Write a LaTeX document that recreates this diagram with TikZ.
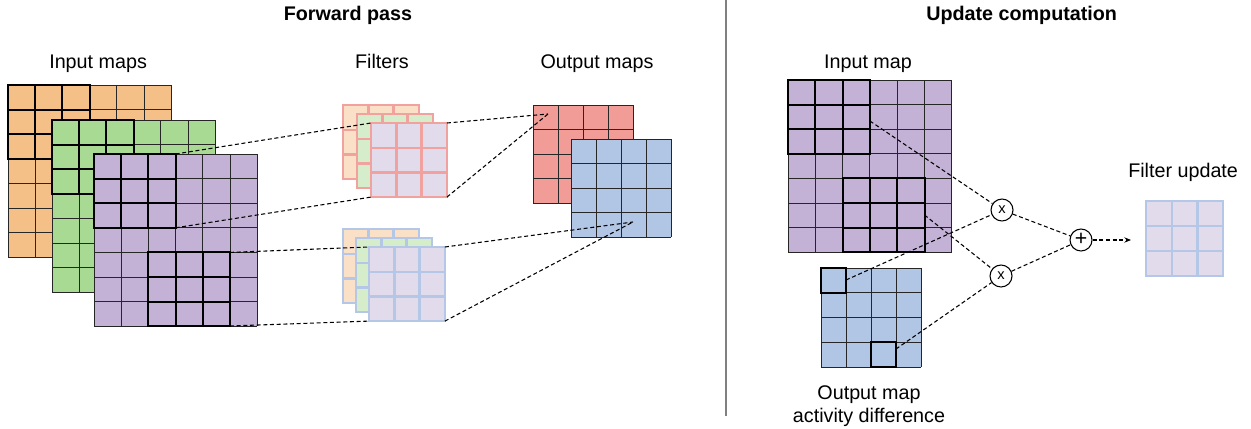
\documentclass[tikz,border=0pt]{standalone}
\usepackage{fontspec}
\setmainfont{Liberation Sans}
\usetikzlibrary{arrows.meta}
\definecolor{cOrange}{HTML}{F5BF88}
\definecolor{cGreen}{HTML}{A9DA93}
\definecolor{cPurple}{HTML}{C3B2D6}
\definecolor{cRed}{HTML}{F19C97}
\definecolor{cBlue}{HTML}{B1C5E4}
\definecolor{lOrange}{HTML}{FAE0C6}
\definecolor{lGreen}{HTML}{D6EDCB}
\definecolor{lPurple}{HTML}{E2DBEC}
\definecolor{bPink}{HTML}{F2A29E}
\definecolor{bBlue}{HTML}{B4C7E6}
\definecolor{divgray}{HTML}{808080}
\tikzset{
  gridline/.style={draw=black!85, line width=0.7pt},
  blockline/.style={draw=black, line width=1.5pt, line cap=rect},
  filtline/.style={line width=1.8pt, line cap=rect},
  conn/.style={draw=black, line width=0.8pt, dash pattern=on 3pt off 2pt},
  opnode/.style={circle, draw, line width=0.8pt, minimum size=16.5pt, inner sep=0pt, fill=white},
  lbl/.style={font=\fontsize{14.8}{17}\selectfont, inner sep=0pt},
  ttl/.style={font=\fontsize{14.8}{17}\selectfont\bfseries, inner sep=0pt},
}
% x y cols rows cw ch fill
\newcommand\DrawMap[7]{%
  \fill[#7] (#1,#2) rectangle ({#1+#3*#5},{#2+#4*#6});
  \foreach \i in {0,...,#3} \draw[gridline] ({#1+\i*#5},#2) -- ({#1+\i*#5},{#2+#4*#6});
  \foreach \j in {0,...,#4} \draw[gridline] (#1,{#2+\j*#6}) -- ({#1+#3*#5},{#2+\j*#6});
}
% x y cw ch c0 r0 nc nr
\newcommand\DrawBlock[8]{%
  \foreach \i in {0,...,#7} \draw[blockline] ({#1+(#5+\i)*#3},{#2+#6*#4}) -- ({#1+(#5+\i)*#3},{#2+(#6+#8)*#4});
  \foreach \j in {0,...,#8} \draw[blockline] ({#1+#5*#3},{#2+(#6+\j)*#4}) -- ({#1+(#5+#7)*#3},{#2+(#6+\j)*#4});
}
% x y cw ch fill border
\newcommand\DrawFilter[6]{%
  \fill[#5] (#1,#2) rectangle ({#1+3*#3},{#2+3*#4});
  \foreach \i in {0,...,3} \draw[filtline,#6] ({#1+\i*#3},#2) -- ({#1+\i*#3},{#2+3*#4});
  \foreach \j in {0,...,3} \draw[filtline,#6] (#1,{#2+\j*#4}) -- ({#1+3*#3},{#2+\j*#4});
}
\begin{document}
\begin{tikzpicture}[x=0.75pt,y=-0.75pt]
\useasboundingbox[fill=white] (0,0) rectangle (1251,428);

% ---------- Forward pass ----------
\node[ttl, anchor=base] (tfp) at (348,20.7) {Forward pass};
\node[lbl, anchor=base west] (lin) at (49,68.3) {Input maps};
\node[lbl, anchor=base] (lfi) at (382,68.3) {Filters};
\node[lbl, anchor=base] (lou) at (597,68.3) {Output maps};

% input maps
\DrawMap{8}{85}{6}{7}{27.2}{24.6}{cOrange}
\DrawBlock{8}{85}{27.2}{24.6}{0}{0}{3}{3}
\DrawBlock{8}{85}{27.2}{24.6}{2}{4}{3}{3}
\DrawMap{52}{120}{6}{7}{27.2}{24.6}{cGreen}
\DrawBlock{52}{120}{27.2}{24.6}{0}{0}{3}{3}
\DrawBlock{52}{120}{27.2}{24.6}{2}{4}{3}{3}
\DrawMap{94}{154}{6}{7}{27.2}{24.6}{cPurple}
\DrawBlock{94}{154}{27.2}{24.6}{0}{0}{3}{3}
\DrawBlock{94}{154}{27.2}{24.6}{2}{4}{3}{3}

% filters (top stack)
\DrawFilter{343}{105}{25.3}{24.7}{lOrange}{bPink}
\DrawFilter{357}{114}{25.3}{24.7}{lGreen}{bPink}
\DrawFilter{371}{123}{25.3}{24.7}{lPurple}{bPink}
% filters (bottom stack)
\DrawFilter{343}{229}{25.3}{24.7}{lOrange}{bBlue}
\DrawFilter{356}{238}{25.3}{24.7}{lGreen}{bBlue}
\DrawFilter{369}{247}{25.3}{24.7}{lPurple}{bBlue}

% output maps
\DrawMap{533}{105}{4}{4}{25}{24.5}{cRed}
\DrawMap{571}{139}{4}{4}{25}{24.5}{cBlue}

% connector end points
\coordinate (pA1) at (175.6,154);
\coordinate (pA2) at (175.6,227.8);
\coordinate (pB1) at (230,252.4);
\coordinate (pB2) at (230,326);
\coordinate (fT1) at (371,123);
\coordinate (fT2) at (371,197.1);
\coordinate (fT3) at (446.9,123);
\coordinate (fT4) at (446.9,197.1);
\coordinate (fB1) at (369,247);
\coordinate (fB2) at (369,321.1);
\coordinate (fB3) at (444.9,247);
\coordinate (fB4) at (444.9,321.1);
\coordinate (oR) at (548,114);
\coordinate (oB) at (633,222);

\draw[conn] (pA1) -- (fT1);
\draw[conn] (pA2) -- (fT2);
\draw[conn] (fT3) -- (oR);
\draw[conn] (fT4) -- (oR);
\draw[conn] (pB1) -- (fB1);
\draw[conn] (pB2) -- (fB2);
\draw[conn] (fB3) -- (oB);
\draw[conn] (fB4) -- (oB);

% divider
\coordinate (dv1) at (726,0);
\coordinate (dv2) at (726,416);
\draw[divgray, line width=0.8pt] (dv1) -- (dv2);

% ---------- Update computation ----------
\node[ttl, anchor=base west] (tuc) at (926,20.7) {Update computation};
\node[lbl, anchor=base] (lim) at (868,68.3) {Input map};
\node[lbl, anchor=base west] (lfu) at (1128,177) {Filter update};
\node[lbl, anchor=base] (lom1) at (869,399) {Output map};
\node[lbl, anchor=base] (lom2) at (869,422) {activity difference};

\DrawMap{788}{80}{6}{7}{27.3}{24.6}{cPurple}
\DrawBlock{788}{80}{27.3}{24.6}{0}{0}{3}{3}
\DrawBlock{788}{80}{27.3}{24.6}{2}{4}{3}{3}

\DrawMap{821}{268}{4}{4}{25}{24.75}{cBlue}
\DrawBlock{821}{268}{25}{24.75}{0}{0}{1}{1}
\DrawBlock{821}{268}{25}{24.75}{2}{3}{1}{1}

\DrawFilter{1146}{201}{25.7}{25}{lPurple}{bBlue}

\node[opnode] (m1) at (1002,210) {\fontsize{11}{12}\selectfont x};
\node[opnode] (m2) at (1001,276) {\fontsize{11}{12}\selectfont x};
\node[opnode] (pl) at (1081,240) {\fontsize{16}{16}\selectfont\raisebox{0.6pt}{+}};

\coordinate (rA) at (869.9,121);
\coordinate (rB) at (924.5,215);
\coordinate (dA) at (846,280);
\coordinate (dB) at (896,349);
\coordinate (fu) at (1131,240);

\draw[conn] (rA) -- (m1);
\draw[conn] (dA) -- (m1);
\draw[conn] (rB) -- (m2);
\draw[conn] (dB) -- (m2);
\draw[conn] (m1) -- (pl);
\draw[conn] (m2) -- (pl);
\draw[conn, -{Stealth[length=5pt,width=4pt]}] (pl) -- (fu);
\end{tikzpicture}
\end{document}
